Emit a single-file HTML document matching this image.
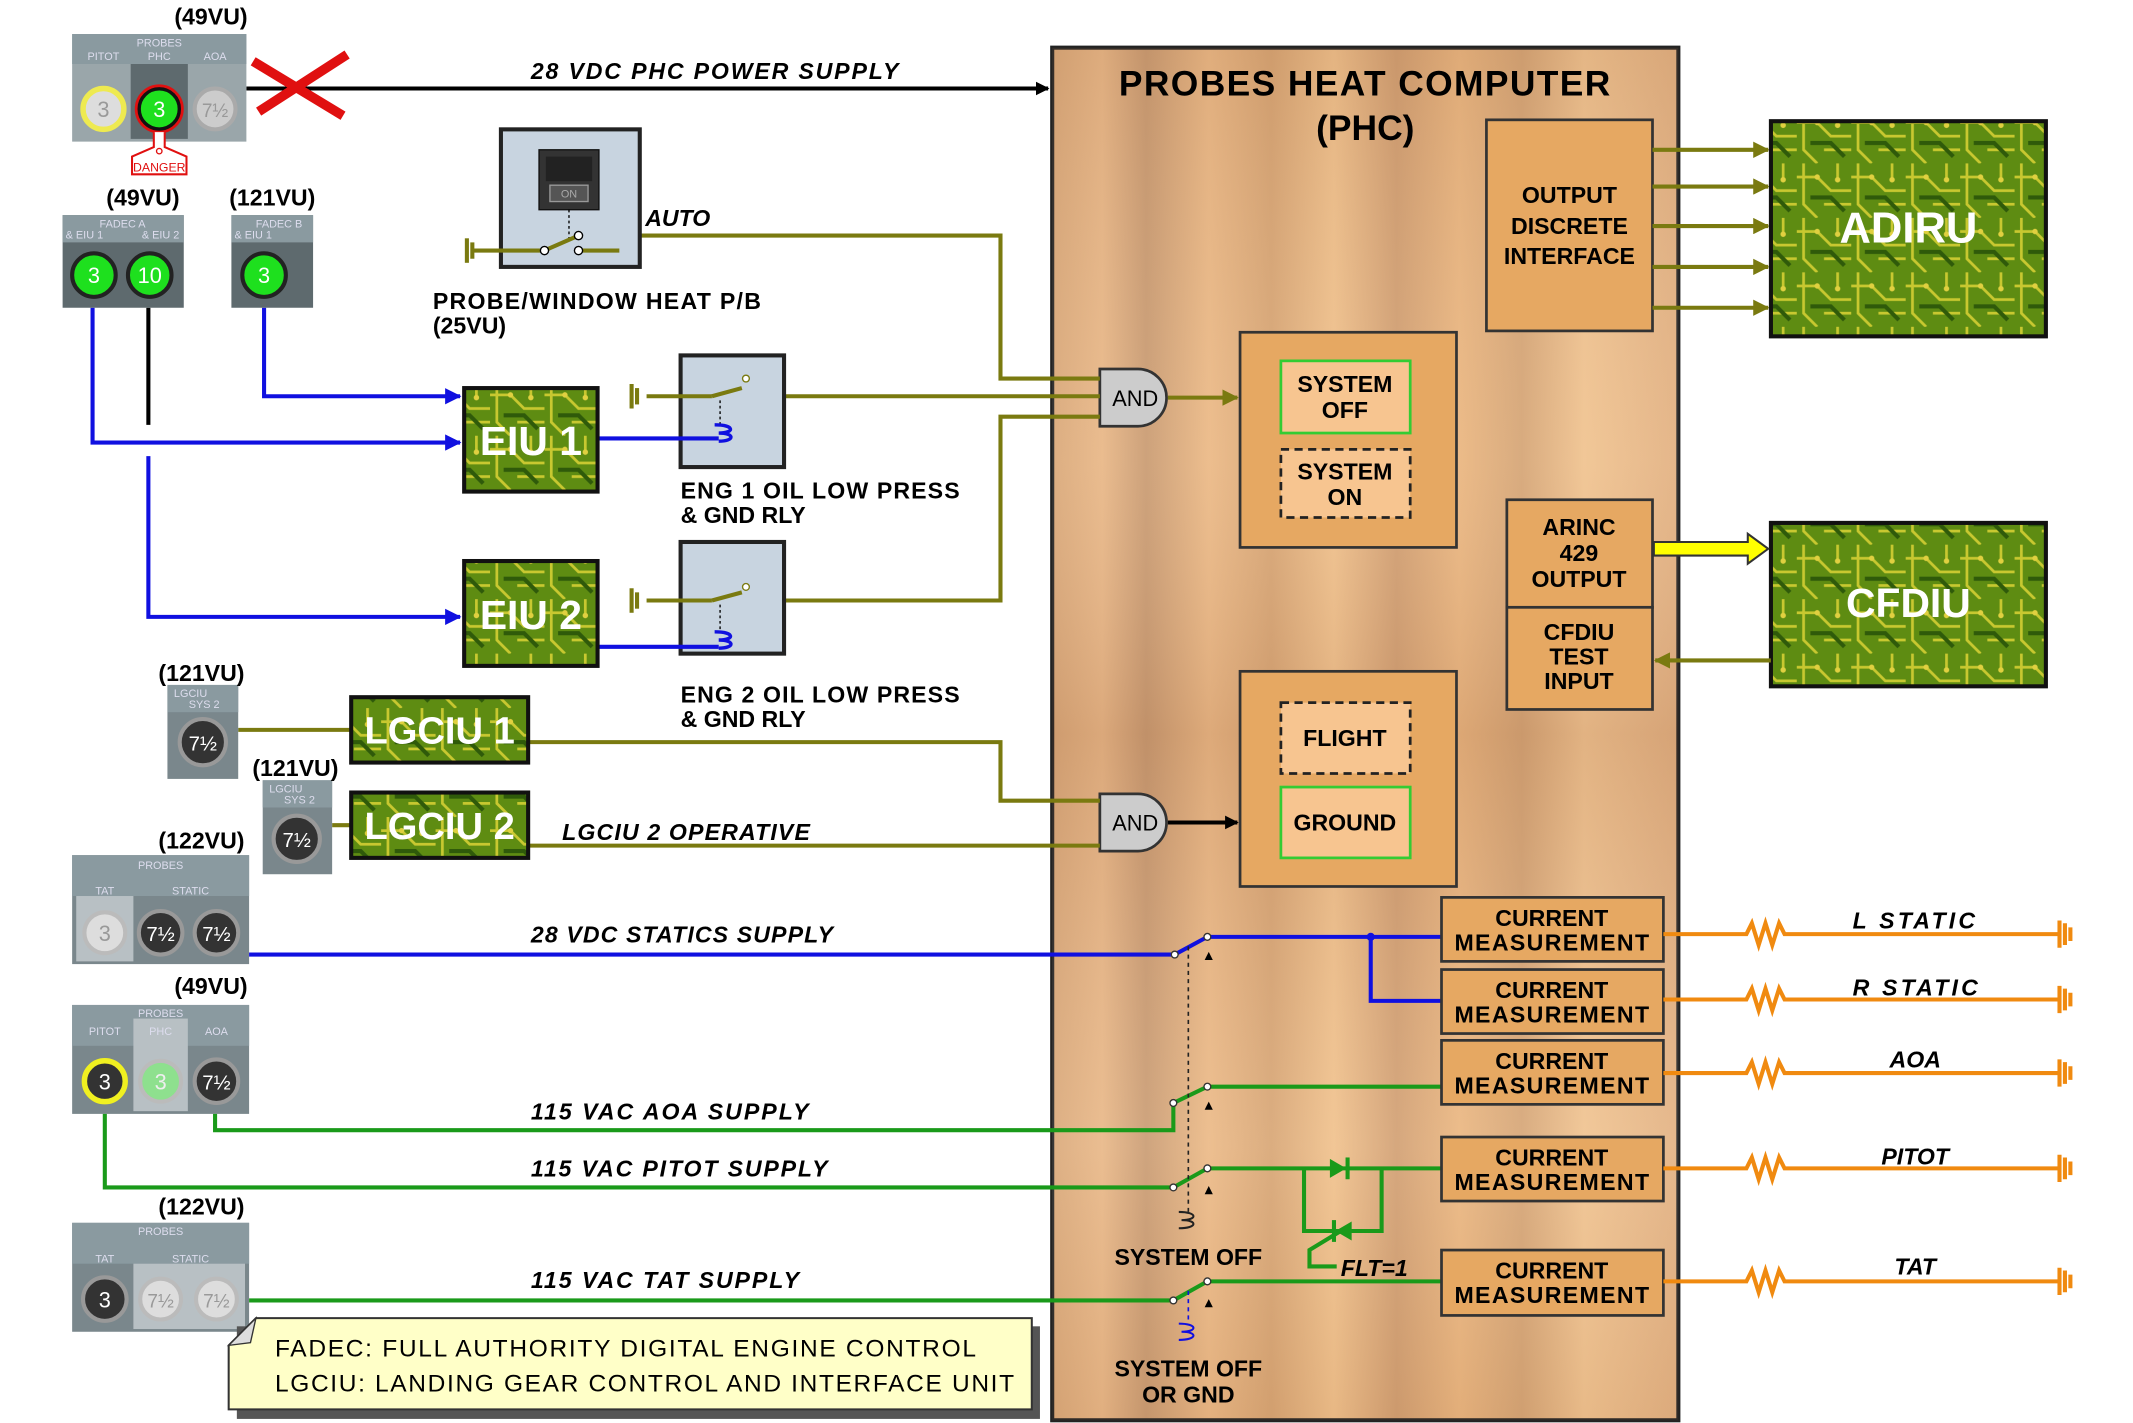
<!DOCTYPE html>
<html><head><meta charset="utf-8"><style>html,body{margin:0;padding:0;background:#fff}svg{display:block}</style></head>
<body>
<svg width="2133" height="1423" viewBox="0 0 1567 1045" preserveAspectRatio="none" xmlns="http://www.w3.org/2000/svg" font-family="Liberation Sans, sans-serif">
<defs>
<linearGradient id="wood" x1="0" y1="0" x2="1" y2="0">
<stop offset="0" stop-color="#d9a777"/><stop offset="0.08" stop-color="#e8b685"/><stop offset="0.15" stop-color="#c99a70"/>
<stop offset="0.25" stop-color="#ebb884"/><stop offset="0.35" stop-color="#d7a472"/><stop offset="0.45" stop-color="#f0c08a"/>
<stop offset="0.55" stop-color="#d19e70"/><stop offset="0.65" stop-color="#eab57e"/><stop offset="0.75" stop-color="#d5a474"/>
<stop offset="0.85" stop-color="#f0c28e"/><stop offset="1" stop-color="#e2b080"/></linearGradient>
<linearGradient id="woodv" x1="0" y1="0" x2="0" y2="1">
<stop offset="0" stop-color="#a07050" stop-opacity="0.15"/><stop offset="0.3" stop-color="#fff" stop-opacity="0.08"/>
<stop offset="0.5" stop-color="#905a40" stop-opacity="0.15"/><stop offset="0.8" stop-color="#fff" stop-opacity="0.1"/><stop offset="1" stop-color="#a07050" stop-opacity="0.1"/></linearGradient>
<pattern id="pcb" width="40" height="40" patternUnits="userSpaceOnUse">
<rect width="40" height="40" fill="#5e8c12"/>
<path d="M0 10 L15 10 L25 20 L40 20 M5 0 L5 30 L15 40 M30 0 L30 12 M20 30 L40 30" stroke="#c8c830" stroke-width="2" fill="none"/>
<path d="M10 25 L25 25 L35 35" stroke="#2f5a0a" stroke-width="3" fill="none"/>
<circle cx="30" cy="12" r="2" fill="#e0d040"/><circle cx="15" cy="10" r="2" fill="#e0d040"/></pattern>
<marker id="ab" markerWidth="10" markerHeight="10" refX="9" refY="5" orient="auto" markerUnits="userSpaceOnUse"><path d="M0 0 L10 5 L0 10z" fill="#000"/></marker>
<marker id="abl" markerWidth="12" markerHeight="12" refX="11" refY="6" orient="auto" markerUnits="userSpaceOnUse"><path d="M0 0 L12 6 L0 12z" fill="#1010e0"/></marker>
<marker id="aol" markerWidth="12" markerHeight="12" refX="11" refY="6" orient="auto" markerUnits="userSpaceOnUse"><path d="M0 0 L12 6 L0 12z" fill="#7a7a10"/></marker>
</defs>

<rect x="773" y="35" width="460" height="1008" fill="url(#wood)" stroke="#222" stroke-width="3"/>
<rect x="773" y="35" width="460" height="1008" fill="url(#woodv)"/>
<text x="822" y="70" font-size="26" font-weight="bold" textLength="361">PROBES HEAT COMPUTER</text>
<text x="1003" y="103" font-size="26" font-weight="bold" text-anchor="middle">(PHC)</text>

<rect x="1092" y="88" width="122" height="155" fill="#e6a862" stroke="#333" stroke-width="2"/>
<g font-size="17" font-weight="bold" text-anchor="middle"><text x="1153" y="149">OUTPUT</text><text x="1153" y="172">DISCRETE</text><text x="1153" y="194">INTERFACE</text></g>
<g stroke="#7a7a10" stroke-width="3" marker-end="url(#aol)">
<line x1="1214" y1="110" x2="1299" y2="110"/><line x1="1214" y1="137" x2="1299" y2="137"/><line x1="1214" y1="166" x2="1299" y2="166"/><line x1="1214" y1="196" x2="1299" y2="196"/><line x1="1214" y1="226" x2="1299" y2="226"/></g>
<rect x="1301" y="89" width="202" height="158" fill="url(#pcb)" stroke="#111" stroke-width="3"/>
<text x="1402" y="178" font-size="32" font-weight="bold" fill="#fff" text-anchor="middle">ADIRU</text>
<rect x="1301" y="384" width="202" height="120" fill="url(#pcb)" stroke="#111" stroke-width="3"/>
<text x="1402" y="453" font-size="30" font-weight="bold" fill="#fff" text-anchor="middle">CFDIU</text>

<rect x="1107" y="367" width="107" height="79" fill="#e6a862" stroke="#333" stroke-width="2"/>
<rect x="1107" y="446" width="107" height="75" fill="#e6a862" stroke="#333" stroke-width="2"/>
<g font-size="17" font-weight="bold" text-anchor="middle"><text x="1160" y="393">ARINC</text><text x="1160" y="412">429</text><text x="1160" y="431">OUTPUT</text>
<text x="1160" y="470">CFDIU</text><text x="1160" y="488">TEST</text><text x="1160" y="506">INPUT</text></g>
<path d="M1215 398 L1284 398 L1284 392 L1299 403 L1284 414 L1284 408 L1215 408z" fill="#ffff00" stroke="#333" stroke-width="1.5"/>
<line x1="1301" y1="485" x2="1216" y2="485" stroke="#7a7a10" stroke-width="3" marker-end="url(#aol)"/>

<rect x="911" y="244" width="159" height="158" fill="#e6a862" stroke="#333" stroke-width="2"/>
<rect x="941" y="265" width="95" height="53" fill="#f7c590" stroke="#3c3" stroke-width="2"/>
<rect x="941" y="330" width="95" height="50" fill="#f7c590" stroke="#222" stroke-width="2" stroke-dasharray="6,4"/>
<g font-size="17" font-weight="bold" text-anchor="middle"><text x="988" y="288">SYSTEM</text><text x="988" y="307">OFF</text><text x="988" y="352">SYSTEM</text><text x="988" y="371">ON</text></g>
<rect x="911" y="493" width="159" height="158" fill="#e6a862" stroke="#333" stroke-width="2"/>
<rect x="941" y="516" width="95" height="52" fill="#f7c590" stroke="#222" stroke-width="2" stroke-dasharray="6,4"/>
<rect x="941" y="578" width="95" height="52" fill="#f7c590" stroke="#3c3" stroke-width="2"/>
<g font-size="17" font-weight="bold" text-anchor="middle"><text x="988" y="548">FLIGHT</text><text x="988" y="610">GROUND</text></g>

<path d="M808 271 L836 271 A21 21 0 0 1 836 313 L808 313z" fill="#ccc" stroke="#333" stroke-width="2"/>
<text x="834" y="298" font-size="16" text-anchor="middle">AND</text>
<line x1="858" y1="292" x2="909" y2="292" stroke="#7a7a10" stroke-width="3" marker-end="url(#aol)"/>
<path d="M808 583 L836 583 A21 21 0 0 1 836 625 L808 625z" fill="#ccc" stroke="#333" stroke-width="2"/>
<text x="834" y="610" font-size="16" text-anchor="middle">AND</text>
<line x1="858" y1="604" x2="909" y2="604" stroke="#000" stroke-width="3" marker-end="url(#ab)"/>

<g stroke="#7a7a10" stroke-width="3" fill="none">
<polyline points="425,173 735,173 735,278 808,278"/>
<polyline points="536,291 808,291"/>
<polyline points="536,441 735,441 735,306 808,306"/>
<polyline points="388,545 735,545 735,588 808,588"/>
<polyline points="388,621 808,621"/>
<line x1="175" y1="536" x2="258" y2="536"/>
<line x1="244" y1="606" x2="258" y2="606"/>
</g>

<line x1="181" y1="65" x2="770" y2="65" stroke="#000" stroke-width="3" marker-end="url(#ab)"/>
<path d="M186 45 L252 85 M190 82 L255 40" stroke="#e01010" stroke-width="7"/>
<text x="390" y="58" font-size="17" font-weight="bold" font-style="italic" textLength="270">28 VDC  PHC  POWER SUPPLY</text>

<rect x="368" y="95" width="102" height="101" fill="#c8d4e0" stroke="#222" stroke-width="3"/>
<rect x="396" y="110" width="44" height="44" fill="#333" stroke="#111"/>
<rect x="401" y="115" width="34" height="18" fill="#222"/><rect x="404" y="136" width="28" height="12" fill="#555" stroke="#999"/>
<text x="418" y="145" font-size="8" fill="#aaa" text-anchor="middle">ON</text>
<line x1="418" y1="154" x2="418" y2="178" stroke="#000" stroke-dasharray="2,2"/>
<g stroke="#7a7a10" stroke-width="3" fill="none"><line x1="348" y1="184" x2="400" y2="184"/><line x1="400" y1="184" x2="425" y2="173"/><line x1="425" y1="184" x2="455" y2="184"/>
<line x1="343" y1="175" x2="343" y2="193"/><line x1="347" y1="178" x2="347" y2="190"/></g>
<circle cx="400" cy="184" r="3" fill="#fff" stroke="#000"/><circle cx="425" cy="173" r="3" fill="#fff" stroke="#000"/><circle cx="425" cy="184" r="3" fill="#fff" stroke="#000"/>
<text x="474" y="166" font-size="17" font-weight="bold" font-style="italic">AUTO</text>
<text x="318" y="227" font-size="17" font-weight="bold" textLength="241">PROBE/WINDOW HEAT P/B</text>
<text x="318" y="245" font-size="17" font-weight="bold">(25VU)</text>

<g>
<rect x="500" y="261" width="76" height="82" fill="#c8d4e0" stroke="#222" stroke-width="3"/>
<rect x="500" y="398" width="76" height="82" fill="#c8d4e0" stroke="#222" stroke-width="3"/>
<g stroke="#7a7a10" stroke-width="3" fill="none"><line x1="475" y1="291" x2="523" y2="291"/><line x1="523" y1="291" x2="545" y2="285"/>
<line x1="475" y1="441" x2="523" y2="441"/><line x1="523" y1="441" x2="545" y2="435"/>
<line x1="464" y1="282" x2="464" y2="300"/><line x1="468" y1="285" x2="468" y2="297"/>
<line x1="464" y1="432" x2="464" y2="450"/><line x1="468" y1="435" x2="468" y2="447"/></g>
<circle cx="548" cy="278" r="2.5" fill="#fff" stroke="#7a7a10"/><circle cx="548" cy="431" r="2.5" fill="#fff" stroke="#7a7a10"/>
<line x1="529" y1="294" x2="529" y2="312" stroke="#000" stroke-dasharray="2,2"/>
<line x1="529" y1="444" x2="529" y2="462" stroke="#000" stroke-dasharray="2,2"/>
<path d="M525 312 C540 312 540 318 528 318 C540 318 540 324 528 324" stroke="#1010e0" stroke-width="2.5" fill="none"/>
<path d="M525 464 C540 464 540 470 528 470 C540 470 540 476 528 476" stroke="#1010e0" stroke-width="2.5" fill="none"/>
</g>
<g font-size="17" font-weight="bold"><text x="500" y="366" textLength="205">ENG 1 OIL LOW PRESS</text><text x="500" y="384">&amp; GND RLY</text>
<text x="500" y="516" textLength="205">ENG 2 OIL LOW PRESS</text><text x="500" y="534">&amp; GND RLY</text></g>

<g stroke="#1010e0" stroke-width="3" fill="none">
<polyline points="68,226 68,325 338,325" marker-end="url(#abl)"/>
<polyline points="109,335 109,453 338,453" marker-end="url(#abl)"/>
<polyline points="194,226 194,291 338,291" marker-end="url(#abl)"/>
<line x1="439" y1="322" x2="528" y2="322"/><line x1="439" y1="475" x2="528" y2="475"/>
</g>
<line x1="109" y1="226" x2="109" y2="312" stroke="#000" stroke-width="3"/>

<rect x="341" y="285" width="98" height="76" fill="url(#pcb)" stroke="#111" stroke-width="3"/>
<text x="390" y="334" font-size="30" font-weight="bold" fill="#fff" text-anchor="middle">EIU 1</text>
<rect x="341" y="412" width="98" height="77" fill="url(#pcb)" stroke="#111" stroke-width="3"/>
<text x="390" y="462" font-size="30" font-weight="bold" fill="#fff" text-anchor="middle">EIU 2</text>
<rect x="258" y="512" width="130" height="48" fill="url(#pcb)" stroke="#111" stroke-width="3"/>
<text x="323" y="546" font-size="28" font-weight="bold" fill="#fff" text-anchor="middle">LGCIU 1</text>
<rect x="258" y="582" width="130" height="48" fill="url(#pcb)" stroke="#111" stroke-width="3"/>
<text x="323" y="616" font-size="28" font-weight="bold" fill="#fff" text-anchor="middle">LGCIU 2</text>
<text x="413" y="617" font-size="17" font-weight="bold" font-style="italic" textLength="182">LGCIU 2 OPERATIVE</text>

<g font-size="8" fill="#dde" text-anchor="middle">
<rect x="53" y="25" width="128" height="79" fill="#9aa6aa"/><rect x="53" y="25" width="128" height="22" fill="#8a9aa0"/>
<rect x="96" y="47" width="42" height="55" fill="#5e6a6e"/>
<text x="117" y="34">PROBES</text><text x="76" y="44">PITOT</text><text x="117" y="44">PHC</text><text x="158" y="44">AOA</text>
<circle cx="76" cy="80" r="15" fill="#ddd" stroke="#eeea50" stroke-width="4"/><text x="76" y="86" font-size="16" fill="#999">3</text>
<circle cx="117" cy="80" r="15" fill="#1ee01e" stroke="#111" stroke-width="3"/><circle cx="117" cy="80" r="17" fill="none" stroke="#e01010" stroke-width="2"/><text x="117" y="86" font-size="16" fill="#fff">3</text>
<circle cx="158" cy="80" r="15" fill="#ccc" stroke="#aaa" stroke-width="3"/><text x="158" y="86" font-size="14" fill="#999">7½</text>
<path d="M113 97 L113 108 L97 115 L97 128 L137 128 L137 115 L121 108 L121 97" fill="#fff" stroke="#e01010" stroke-width="1.5"/><circle cx="117" cy="111" r="2" fill="none" stroke="#e01010"/>
<text x="117" y="126" font-size="9" fill="#e01010">DANGER</text>

<rect x="46" y="158" width="89" height="68" fill="#5e6a6e"/><rect x="46" y="158" width="89" height="20" fill="#8a9aa0"/>
<text x="90" y="167">FADEC A</text><text x="62" y="175">&amp; EIU 1</text><text x="118" y="175">&amp; EIU 2</text>
<circle cx="69" cy="202" r="16" fill="#1ee01e" stroke="#222" stroke-width="3"/><text x="69" y="208" font-size="16" fill="#fff">3</text>
<circle cx="110" cy="202" r="16" fill="#1ee01e" stroke="#222" stroke-width="3"/><text x="110" y="208" font-size="16" fill="#fff">10</text>
<rect x="170" y="158" width="60" height="68" fill="#5e6a6e"/><rect x="170" y="158" width="60" height="20" fill="#8a9aa0"/>
<text x="205" y="167">FADEC B</text><text x="186" y="175">&amp; EIU 1</text>
<circle cx="194" cy="202" r="16" fill="#1ee01e" stroke="#222" stroke-width="3"/><text x="194" y="208" font-size="16" fill="#fff">3</text>

<rect x="123" y="503" width="52" height="69" fill="#7a878c"/><rect x="123" y="503" width="52" height="20" fill="#8a9aa0"/>
<text x="140" y="512">LGCIU</text><text x="150" y="520">SYS 2</text>
<circle cx="149" cy="545" r="17" fill="#333" stroke="#999" stroke-width="3"/><text x="149" y="551" font-size="15" fill="#fff">7½</text>
<rect x="193" y="573" width="51" height="69" fill="#7a878c"/><rect x="193" y="573" width="51" height="20" fill="#8a9aa0"/>
<text x="210" y="582">LGCIU</text><text x="220" y="590">SYS 2</text>
<circle cx="218" cy="616" r="17" fill="#333" stroke="#999" stroke-width="3"/><text x="218" y="622" font-size="15" fill="#fff">7½</text>

<rect x="53" y="628" width="130" height="80" fill="#7a878c"/><rect x="53" y="628" width="130" height="30" fill="#8a9aa0"/>
<rect x="56" y="658" width="42" height="48" fill="#b8c0c4"/>
<text x="118" y="638">PROBES</text><text x="77" y="657">TAT</text><text x="140" y="657">STATIC</text>
<circle cx="77" cy="685" r="15" fill="#ddd" stroke="#bbb" stroke-width="3"/><text x="77" y="691" font-size="16" fill="#999">3</text>
<circle cx="118" cy="685" r="16" fill="#333" stroke="#999" stroke-width="3"/><text x="118" y="691" font-size="15" fill="#fff">7½</text>
<circle cx="159" cy="685" r="16" fill="#333" stroke="#999" stroke-width="3"/><text x="159" y="691" font-size="15" fill="#fff">7½</text>

<rect x="53" y="738" width="130" height="80" fill="#7a878c"/><rect x="53" y="738" width="130" height="30" fill="#8a9aa0"/>
<rect x="98" y="748" width="40" height="68" fill="#b8c0c4"/>
<text x="118" y="747">PROBES</text><text x="77" y="760">PITOT</text><text x="118" y="760">PHC</text><text x="159" y="760">AOA</text>
<circle cx="77" cy="794" r="15" fill="#333" stroke="#f0f020" stroke-width="4"/><text x="77" y="800" font-size="16" fill="#fff">3</text>
<circle cx="118" cy="794" r="15" fill="#8ee08e" stroke="#bbb" stroke-width="3"/><text x="118" y="800" font-size="16" fill="#eee">3</text>
<circle cx="159" cy="794" r="16" fill="#333" stroke="#999" stroke-width="3"/><text x="159" y="800" font-size="15" fill="#fff">7½</text>

<rect x="53" y="898" width="130" height="80" fill="#7a878c"/><rect x="53" y="898" width="130" height="30" fill="#8a9aa0"/>
<rect x="98" y="928" width="82" height="48" fill="#b8c0c4"/>
<text x="118" y="907">PROBES</text><text x="77" y="927">TAT</text><text x="140" y="927">STATIC</text>
<circle cx="77" cy="954" r="16" fill="#333" stroke="#999" stroke-width="3"/><text x="77" y="960" font-size="16" fill="#fff">3</text>
<circle cx="118" cy="954" r="15" fill="#ddd" stroke="#bbb" stroke-width="3"/><text x="118" y="960" font-size="14" fill="#999">7½</text>
<circle cx="159" cy="954" r="15" fill="#ddd" stroke="#bbb" stroke-width="3"/><text x="159" y="960" font-size="14" fill="#999">7½</text>
</g>
<g font-size="17" font-weight="bold" text-anchor="middle">
<text x="155" y="18">(49VU)</text><text x="105" y="151">(49VU)</text><text x="200" y="151">(121VU)</text>
<text x="148" y="500">(121VU)</text><text x="217" y="570">(121VU)</text><text x="148" y="623">(122VU)</text>
<text x="155" y="730">(49VU)</text><text x="148" y="892">(122VU)</text></g>

<g stroke="#1010e0" stroke-width="3" fill="none">
<polyline points="183,701 863,701 887,688 1060,688"/><polyline points="1007,688 1007,735 1060,735"/></g>
<circle cx="1007" cy="688" r="3" fill="#1010e0"/>
<g stroke="#1a9a1a" stroke-width="3" fill="none">
<polyline points="158,818 158,830 862,830 862,810 887,798 1060,798"/>
<polyline points="77,818 77,872 862,872 887,858 1060,858"/>
<polyline points="183,955 862,955 887,941 1060,941"/>
<polyline points="958,858 958,904 1015,904 1015,858"/>
<polyline points="985,904 962,918 962,930 982,930"/>
</g>
<path d="M977 851 L977 865 L989 858z" fill="#1a9a1a"/><line x1="990" y1="850" x2="990" y2="866" stroke="#1a9a1a" stroke-width="3"/>
<path d="M993 897 L993 911 L981 904z" fill="#1a9a1a"/><line x1="980" y1="896" x2="980" y2="912" stroke="#1a9a1a" stroke-width="3"/>
<g fill="#fff" stroke="#333"><circle cx="863" cy="701" r="2.5"/><circle cx="887" cy="688" r="2.5"/><circle cx="862" cy="810" r="2.5"/><circle cx="887" cy="798" r="2.5"/><circle cx="862" cy="872" r="2.5"/><circle cx="887" cy="858" r="2.5"/><circle cx="862" cy="955" r="2.5"/><circle cx="887" cy="941" r="2.5"/></g>
<g fill="#000"><path d="M885 705 L888 699 L891 705z"/><path d="M885 815 L888 809 L891 815z"/><path d="M885 877 L888 871 L891 877z"/><path d="M885 960 L888 954 L891 960z"/></g>
<line x1="873" y1="695" x2="873" y2="890" stroke="#222" stroke-width="1.2" stroke-dasharray="3,3"/>
<line x1="873" y1="948" x2="873" y2="970" stroke="#1010e0" stroke-width="1.2" stroke-dasharray="3,3"/>
<path d="M866 890 C880 890 880 896 868 896 C880 896 880 902 866 902" stroke="#222" stroke-width="1.5" fill="none"/>
<path d="M866 972 C880 972 880 978 868 978 C880 978 880 984 866 984" stroke="#1010e0" stroke-width="1.5" fill="none"/>
<g font-size="17" font-weight="bold" text-anchor="middle"><text x="873" y="929">SYSTEM OFF</text><text x="873" y="1011">SYSTEM OFF</text><text x="873" y="1030">OR GND</text></g>
<text x="985" y="937" font-size="17" font-weight="bold" font-style="italic">FLT=1</text>
<g font-size="17" font-weight="bold" font-style="italic"><text x="390" y="692" textLength="222">28 VDC STATICS SUPPLY</text><text x="390" y="822" textLength="204">115 VAC  AOA  SUPPLY</text><text x="390" y="864" textLength="218">115 VAC  PITOT  SUPPLY</text><text x="390" y="946" textLength="197">115 VAC  TAT  SUPPLY</text></g>

<g>
<rect x="1059" y="659" width="163" height="47" fill="#e6a862" stroke="#333" stroke-width="2"/>
<rect x="1059" y="712" width="163" height="47" fill="#e6a862" stroke="#333" stroke-width="2"/>
<rect x="1059" y="764" width="163" height="47" fill="#e6a862" stroke="#333" stroke-width="2"/>
<rect x="1059" y="835" width="163" height="47" fill="#e6a862" stroke="#333" stroke-width="2"/>
<rect x="1059" y="918" width="163" height="48" fill="#e6a862" stroke="#333" stroke-width="2"/>
<g font-size="17" font-weight="bold" text-anchor="middle">
<text x="1140" y="680">CURRENT</text><text x="1140" y="698" textLength="143">MEASUREMENT</text>
<text x="1140" y="733">CURRENT</text><text x="1140" y="751" textLength="143">MEASUREMENT</text>
<text x="1140" y="785">CURRENT</text><text x="1140" y="803" textLength="143">MEASUREMENT</text>
<text x="1140" y="856">CURRENT</text><text x="1140" y="874" textLength="143">MEASUREMENT</text>
<text x="1140" y="939">CURRENT</text><text x="1140" y="957" textLength="143">MEASUREMENT</text></g>
</g>
<g stroke="#f08a10" stroke-width="3" fill="none">
<path d="M1222 686 L1283 686 l4 -8 l5 16 l5 -16 l5 16 l5 -16 l4 8 L1513 686 M1513 676 L1513 696 M1517 678 L1517 694 M1521 681 L1521 691"/>
<path d="M1222 734 L1283 734 l4 -8 l5 16 l5 -16 l5 16 l5 -16 l4 8 L1513 734 M1513 724 L1513 744 M1517 726 L1517 742 M1521 729 L1521 739"/>
<path d="M1222 788 L1283 788 l4 -8 l5 16 l5 -16 l5 16 l5 -16 l4 8 L1513 788 M1513 778 L1513 798 M1517 780 L1517 796 M1521 783 L1521 793"/>
<path d="M1222 858 L1283 858 l4 -8 l5 16 l5 -16 l5 16 l5 -16 l4 8 L1513 858 M1513 848 L1513 868 M1517 850 L1517 866 M1521 853 L1521 863"/>
<path d="M1222 941 L1283 941 l4 -8 l5 16 l5 -16 l5 16 l5 -16 l4 8 L1513 941 M1513 931 L1513 951 M1517 933 L1517 949 M1521 936 L1521 946"/>
</g>
<g font-size="17" font-weight="bold" font-style="italic">
<text x="1361" y="682" textLength="90">L   STATIC</text><text x="1361" y="731" textLength="92">R   STATIC</text></g>
<g font-size="17" font-weight="bold" font-style="italic" text-anchor="middle"><text x="1407" y="784">AOA</text><text x="1407" y="855">PITOT</text><text x="1407" y="936">TAT</text></g>

<rect x="174" y="974" width="590" height="68" fill="#555"/>
<path d="M188 968 L758 968 L758 1035 L168 1035 L168 988z" fill="#ffffc8" stroke="#333" stroke-width="1.5"/>
<path d="M168 988 L188 968 L184 986z" fill="#ddd" stroke="#333" stroke-width="1"/>
<g font-size="18"><text x="202" y="996" textLength="515">FADEC: FULL AUTHORITY DIGITAL ENGINE CONTROL</text>
<text x="202" y="1022" textLength="543">LGCIU: LANDING GEAR CONTROL AND INTERFACE UNIT</text></g>
</svg>
</body></html>
